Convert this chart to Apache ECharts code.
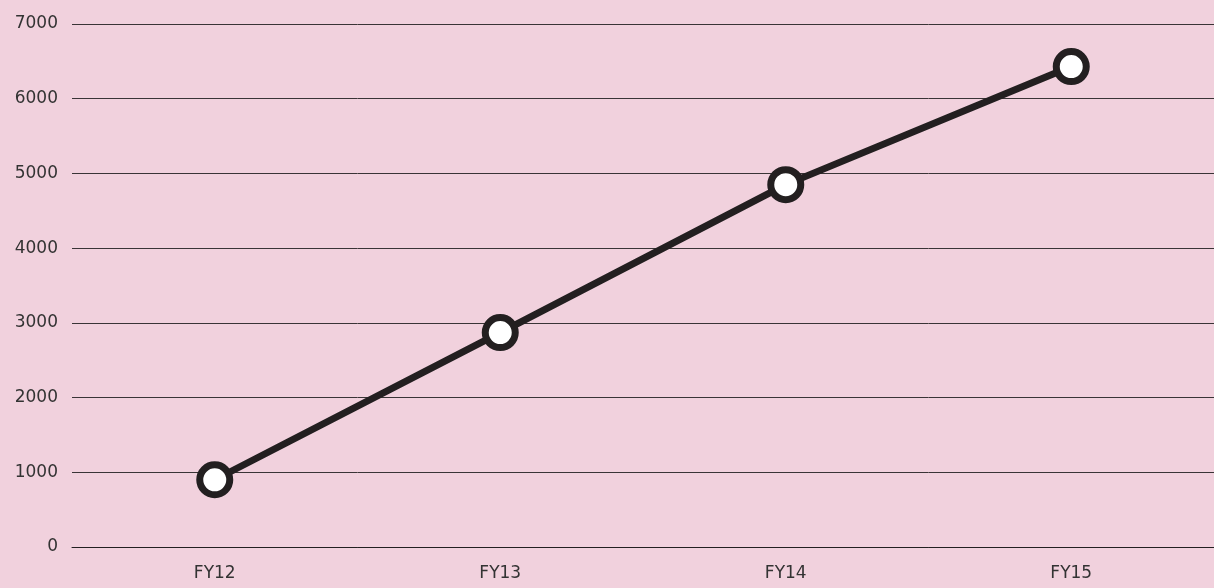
<!DOCTYPE html>
<html>
<head>
<meta charset="utf-8">
<script src="https://cdn.jsdelivr.net/npm/echarts@6/dist/echarts.min.js"></script>
<style>
  html, body { margin: 0; padding: 0; background: #f1d1dd; }
  #chart { width: 1214px; height: 588px; }
</style>
</head>
<body>
<div id="chart"></div>
<script>
// Fiscal years and their values
const years = ['FY12', 'FY13', 'FY14', 'FY15'];
const values = [900, 2870, 4850, 6430];
const yTicks = { min: 0, max: 7000, interval: 1000 };

const labelFont = '"DejaVu Sans", "Noto Sans", sans-serif';

const chart = echarts.init(document.getElementById('chart'), null, { renderer: 'canvas' });
chart.setOption({
  backgroundColor: '#f1d1dd',
  animation: false,
  grid: { left: 72, right: 0, top: 24, bottom: 41 },
  xAxis: {
    type: 'category',
    data: years,
    boundaryGap: true,
    axisLine: { show: true, lineStyle: { color: '#231f20', width: 1 } },
    axisTick: { show: false },
    axisLabel: { color: '#333', fontSize: 17, fontFamily: labelFont, margin: 18 }
  },
  yAxis: {
    type: 'value',
    min: yTicks.min,
    max: yTicks.max,
    interval: yTicks.interval,
    axisLine: { show: false },
    axisTick: { show: false },
    splitLine: { lineStyle: { color: '#3a3436', width: 1 } },
    axisLabel: {
      color: '#333', fontSize: 17, fontFamily: labelFont, margin: 14,
      padding: [0, 0, 6, 0],
      formatter: (v) => String(v)
    }
  },
  series: [{
    type: 'line',
    data: values,
    symbol: 'circle',
    symbolSize: 30,
    lineStyle: { color: '#231f20', width: 7 },
    itemStyle: { color: '#ffffff', borderColor: '#231f20', borderWidth: 7 },
    z: 3
  }]
});
</script>
</body>
</html>
